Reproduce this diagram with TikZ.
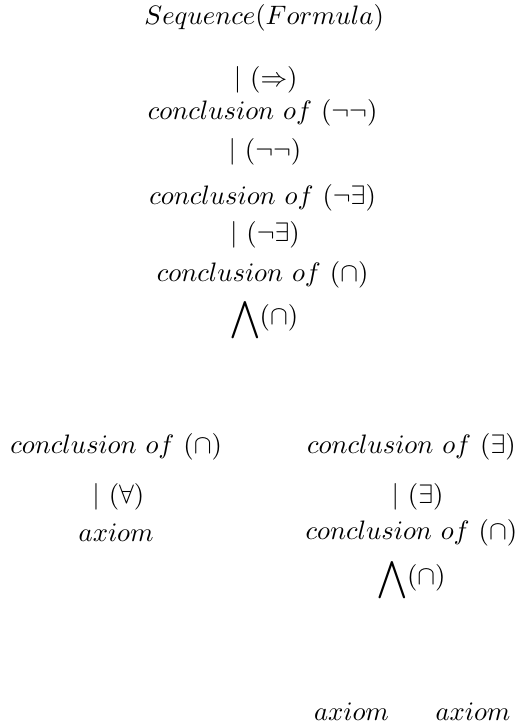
\documentclass[tikz,border=0pt]{standalone}
\usepackage{amsmath}
\usepackage{amssymb}
\usetikzlibrary{positioning}

\begin{document}
\begin{tikzpicture}[
      term/.style={inner sep=0pt},
      rule/.style={inner sep=0pt},
      meet/.style={inner sep=0pt},
    ]
    \useasboundingbox (0, 0) rectangle (6.82, -9.55);
    % main chain
    \node [term] (seq) at (3.48, -0.24) {$Sequence(Formula)$};
    \node [rule] (impl) at (3.50, -1.05) {$|\ (\Rightarrow)$};
    \node [term] (cnn) at (3.46, -1.49) {$conclusion\ of\ (\neg\neg)$};
    \node [rule] (nn) at (3.49, -2.00) {$|\ (\neg\neg)$};
    \node [term] (cne) at (3.46, -2.60) {$conclusion\ of\ (\neg\exists)$};
    \node [rule] (ne) at (3.49, -3.09) {$|\ (\neg\exists)$};
    \node [term] (cand) at (3.46, -3.62) {$conclusion\ of\ (\cap)$};
    \node [meet] (andA) at (3.48, -4.22) {$\displaystyle\bigwedge$\raisebox{1pt}{$(\cap)$}};
    % left branch
    \node [term] (candL) at (1.53, -5.89) {$conclusion\ of\ (\cap)$};
    \node [rule] (all) at (1.56, -6.55) {$|\ (\forall)$};
    \node [term] (axL) at (1.53, -7.02) {$axiom$};
    % right branch
    \node [term] (cex) at (5.42, -5.89) {$conclusion\ of\ (\exists)$};
    \node [rule] (ex) at (5.50, -6.55) {$|\ (\exists)$};
    \node [term] (candR) at (5.42, -7.02) {$conclusion\ of\ (\cap)$};
    \node [meet] (andB) at (5.42, -7.64) {$\displaystyle\bigwedge$\raisebox{1pt}{$(\cap)$}};
    \node [term] (axA) at (4.63, -9.38) {$axiom$};
    \node [term] (axB) at (6.23, -9.38) {$axiom$};
  \end{tikzpicture}
\end{document}
